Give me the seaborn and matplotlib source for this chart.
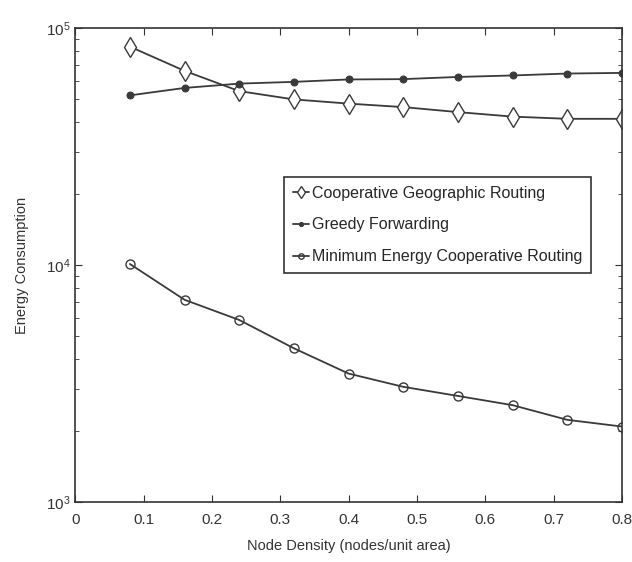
import numpy as np
import pandas as pd
import seaborn as sns
import matplotlib.pyplot as plt
from matplotlib.ticker import LogLocator, NullFormatter

# ---- data ----
density = [0.08, 0.16, 0.24, 0.32, 0.40, 0.48, 0.56, 0.64, 0.72, 0.80]
coop_geo = [83500, 66000, 54200, 50000, 48000, 46400, 44200, 42300, 41400, 41400]
greedy = [52000, 55900, 58300, 59300, 60700, 60900, 62200, 63100, 64300, 64700]
min_energy = [10100, 7130, 5860, 4450, 3480, 3060, 2800, 2560, 2220, 2080]

labels = ['Cooperative Geographic Routing', 'Greedy Forwarding',
          'Minimum Energy Cooperative Routing']
x_ticks = [0, 0.1, 0.2, 0.3, 0.4, 0.5, 0.6, 0.7, 0.8]

sns.set_style('ticks')
plt.rcParams['font.family'] = ['Liberation Sans', 'DejaVu Sans']

fig = plt.figure(figsize=(6.32, 5.62), dpi=100)
ax = fig.add_axes([0.119, 0.107, 0.865, 0.843])

c = '#3a3a3a'
sns.lineplot(x=density, y=coop_geo, ax=ax, color=c, lw=1.3, marker='d',
             markersize=10, markerfacecolor='white', markeredgecolor=c,
             markeredgewidth=1.0, label=labels[0])
sns.lineplot(x=density, y=greedy, ax=ax, color=c, lw=1.3, marker='o',
             markersize=5, markerfacecolor=c, markeredgecolor=c, label=labels[1])
sns.lineplot(x=density, y=min_energy, ax=ax, color=c, lw=1.3, marker='o',
             markersize=6.5, markerfacecolor='none', markeredgecolor=c,
             markeredgewidth=1.0, label=labels[2])

ax.set_yscale('log')
ax.set_ylim(1e3, 1e5)
ax.set_xlim(0, 0.8)
ax.set_xticks(x_ticks)
ax.set_xticklabels([f'{t:g}' for t in x_ticks])
ax.yaxis.set_minor_locator(LogLocator(base=10, subs=np.arange(2, 10)))
ax.yaxis.set_minor_formatter(NullFormatter())

ax.tick_params(which='both', direction='in', top=True, right=True,
               colors='#333333', labelsize=11)
ax.tick_params(which='major', length=5)
ax.tick_params(which='minor', length=3)
ax.tick_params(axis='x', pad=8)
for s in ax.spines.values():
    s.set_color('#333333')
    s.set_linewidth(1.2)

ax.set_xlabel('Node Density (nodes/unit area)', fontsize=10.5, color='#333333',
              labelpad=9)
ax.set_ylabel('Energy Consumption', fontsize=10.5, color='#333333', labelpad=12)

leg = ax.legend(loc='upper left', bbox_to_anchor=(0.368, 0.703), fontsize=11.5,
                frameon=True, fancybox=False, handlelength=1.0,
                handletextpad=0.15, borderpad=0.55, labelspacing=1.05,
                markerscale=0.6, edgecolor='#333333', framealpha=1)
leg.get_frame().set_linewidth(1.2)

fig.savefig('out.png', dpi=100)
